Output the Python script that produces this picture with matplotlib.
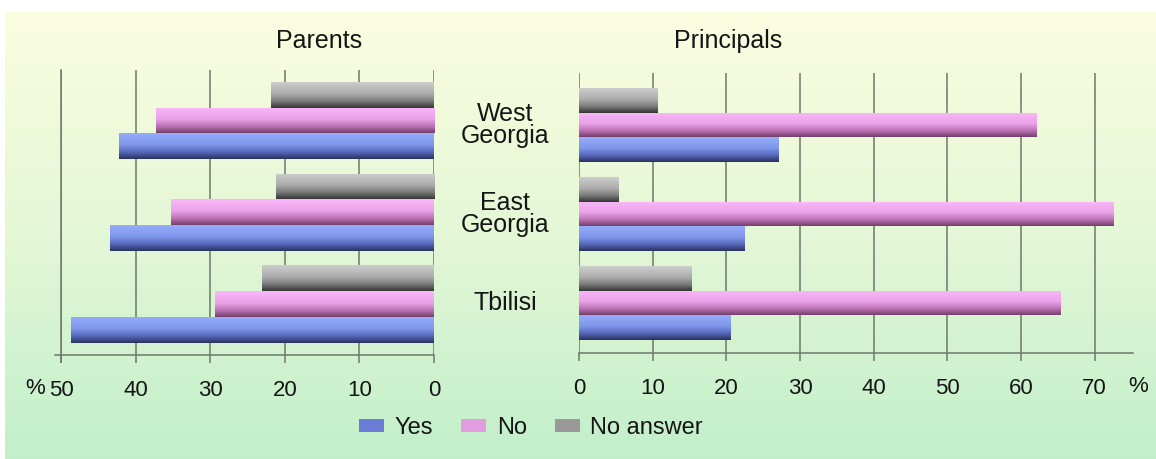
import matplotlib
matplotlib.use("Agg")
import matplotlib.pyplot as plt
import numpy as np
from matplotlib.colors import LinearSegmentedColormap
from matplotlib.patches import Patch
from matplotlib.transforms import blended_transform_factory

plt.rcParams["font.family"] = ["Liberation Sans", "DejaVu Sans"]

# survey answers, % of respondents (bottom to top: Tbilisi, East, West)
regions = ["Tbilisi", "East\nGeorgia", "West\nGeorgia"]
series = ["Yes", "No", "No answer"]
parents_yes = [48.6, 43.4, 42.2]
parents_no = [29.3, 35.2, 37.3]
parents_none = [23.0, 21.2, 21.8]
principals_yes = [20.5, 22.5, 27.1]
principals_no = [65.4, 72.5, 62.1]
principals_none = [15.3, 5.3, 10.6]
parents_ticks = [0, 10, 20, 30, 40, 50]
principals_ticks = [0, 10, 20, 30, 40, 50, 60, 70]

# top -> bottom shading of each bar
shades = {
    "Yes": ["#95acfa", "#7f95ea", "#5465b6", "#2a325e"],
    "No": ["#f9b8f9", "#eaa2e8", "#bb72b4", "#74406c"],
    "No answer": ["#cdcdcd", "#acacac", "#787878", "#363636"],
}
legend_colors = {"Yes": "#6a7cd6", "No": "#e29ce0", "No answer": "#999999"}
grid_color = "#6e776e"
text_color = "#151515"

W, H = 1156, 459
fig = plt.figure(figsize=(W / 100, H / 100), dpi=100)
fig.patch.set_facecolor("white")

# page background: pale yellow fading to pale green
bg = fig.add_axes([5 / W, 0, 1 - 5 / W, 1 - 12 / H], zorder=-10)
bg_cmap = LinearSegmentedColormap.from_list("bg", ["#fbfde0", "#e4f7d6", "#c2efca"])
bg.imshow(np.linspace(0, 1, 256).reshape(-1, 1), cmap=bg_cmap, aspect="auto",
          extent=(0, 1, 0, 1), origin="upper")
bg.axis("off")


def shaded_bars(ax, values, offset, name):
    y = np.arange(len(values)) + offset
    bars = ax.barh(y, values, height=0.28, color=legend_colors[name], zorder=2)
    cmap = LinearSegmentedColormap.from_list(
        name, list(zip([0, 0.45, 0.75, 1.0], shades[name])))
    grad = np.linspace(0, 1, 64).reshape(-1, 1)
    for p in bars:
        x0, y0, w, h = p.get_x(), p.get_y(), p.get_width(), p.get_height()
        im = ax.imshow(grad, cmap=cmap, aspect="auto", origin="upper",
                       extent=(x0, x0 + w, y0, y0 + h), zorder=2.5,
                       interpolation="bilinear")
        im.set_clip_path(p)


def style(ax, ticks):
    ax.set_facecolor("none")
    ax.set_xticks(ticks)
    ax.set_yticks([])
    ax.grid(axis="x", color=grid_color, linewidth=1.1)
    ax.set_axisbelow(True)
    for s in ["top", "right", "left", "bottom"]:
        ax.spines[s].set_visible(False)
    ax.tick_params(axis="x", length=6, width=1.1, color=grid_color,
                   labelsize=16, pad=12, labelcolor=text_color)


# Parents (mirrored, growing to the left)
axl = fig.add_axes([61 / W, 1 - 355 / H, 373 / W, 285 / H])
shaded_bars(axl, parents_yes, -0.28, "Yes")
shaded_bars(axl, parents_no, 0.0, "No")
shaded_bars(axl, parents_none, 0.28, "No answer")
style(axl, parents_ticks)
axl.set_xlim(50, 0)
axl.set_ylim(-0.556, 2.55)
for s in ["left", "bottom"]:
    axl.spines[s].set_visible(True)
    axl.spines[s].set_color(grid_color)
    axl.spines[s].set_linewidth(1.1)
axl.spines["left"].set_bounds(-0.63, 2.55)
axl.spines["bottom"].set_bounds(50.8, 0)

# Principals
axr = fig.add_axes([579 / W, 1 - 353 / H, 554 / W, 280 / H])
shaded_bars(axr, principals_yes, -0.28, "Yes")
shaded_bars(axr, principals_no, 0.0, "No")
shaded_bars(axr, principals_none, 0.28, "No answer")
style(axr, principals_ticks)
axr.set_xlim(0, 75.2)
axr.set_ylim(-0.562, 2.584)
axr.spines["bottom"].set_visible(True)
axr.spines["bottom"].set_color(grid_color)
axr.spines["bottom"].set_linewidth(1.1)

fig.text(35 / W, 1 - 388 / H, "%", fontsize=16, ha="center", va="center", color=text_color)
fig.text(1138 / W, 1 - 386 / H, "%", fontsize=16, ha="center", va="center", color=text_color)

fig.text(319 / W, 1 - 41 / H, "Parents", fontsize=18, ha="center", va="center", color=text_color)
fig.text(728 / W, 1 - 41 / H, "Principals", fontsize=18, ha="center", va="center", color=text_color)

# region names between the two panels, aligned with the bar groups
tr = blended_transform_factory(fig.transFigure, axr.transData)
for i, name in enumerate(regions):
    fig.text(505 / W, i, name, transform=tr, fontsize=18, ha="center", va="center",
             linespacing=0.92, color=text_color)

handles = [Patch(facecolor=legend_colors[s], edgecolor="none") for s in series]
fig.legend(handles, series, loc="center", bbox_to_anchor=(531 / W, 1 - 428 / H),
           ncol=3, frameon=False, fontsize=17, handlelength=1.05, handleheight=0.5,
           handletextpad=0.45, columnspacing=1.2, borderpad=0, labelcolor=text_color)

fig.savefig("out.png", dpi=100)
